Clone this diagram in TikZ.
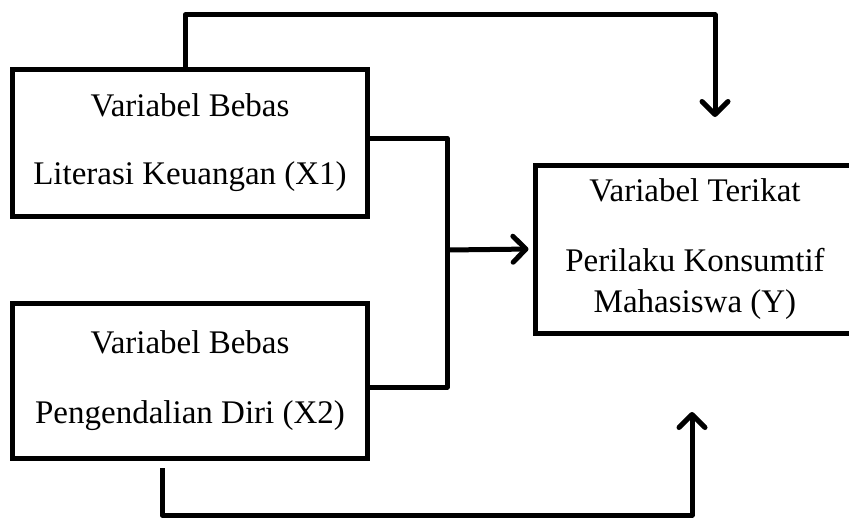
\documentclass[tikz,border=0pt]{standalone}
\usepackage{fontspec}
\setmainfont{Liberation Serif}
\usepackage{tikz}
\usetikzlibrary{arrows.meta}

\begin{document}
\begin{tikzpicture}[x=1pt,y=-1pt]
						\tikzstyle{box}=[draw,rectangle,line width=5pt,align=center,inner sep=0pt,font=\fontsize{33}{41}\selectfont]
						\tikzstyle{conn}=[line width=5pt,line join=round]
						\tikzstyle{arr}=[conn,-{Straight Barb[length=13pt,width=26pt,line cap=round,line join=round]}]
						
						\useasboundingbox (0,0) rectangle (849,519);
						
						\node[box,minimum width=355pt,minimum height=147pt] (x1) at (190,143)
							{Variabel Bebas\\[27pt]Literasi Keuangan (X1)};
						\node[box,minimum width=355pt,minimum height=155pt] (x2) at (190,381)
							{Variabel Bebas\\[29pt]Pengendalian Diri (X2)};
						\node[box,minimum width=320pt,minimum height=168pt] (y) at (695,249)
							{Variabel Terikat\\[29pt]Perilaku Konsumtif\\Mahasiswa (Y)};
						
						\coordinate (jn) at (447,250);
						\coordinate (topin) at (715,117);
						\coordinate (botout) at (162,468);
						\coordinate (botin) at (692,412);
						
						\draw[conn] ([yshift=5pt]x1.east) -| (jn) |- ([yshift=-6pt]x2.east);
						\draw[arr,shorten >=4pt] (jn) -- (y.west);
						\draw[arr] (x1.north -| 185,0) |- (600,15) -| (topin);
						\draw[arr] (botout) |- (600,515) -| (botin);
						
						\end{tikzpicture}
\end{document}
